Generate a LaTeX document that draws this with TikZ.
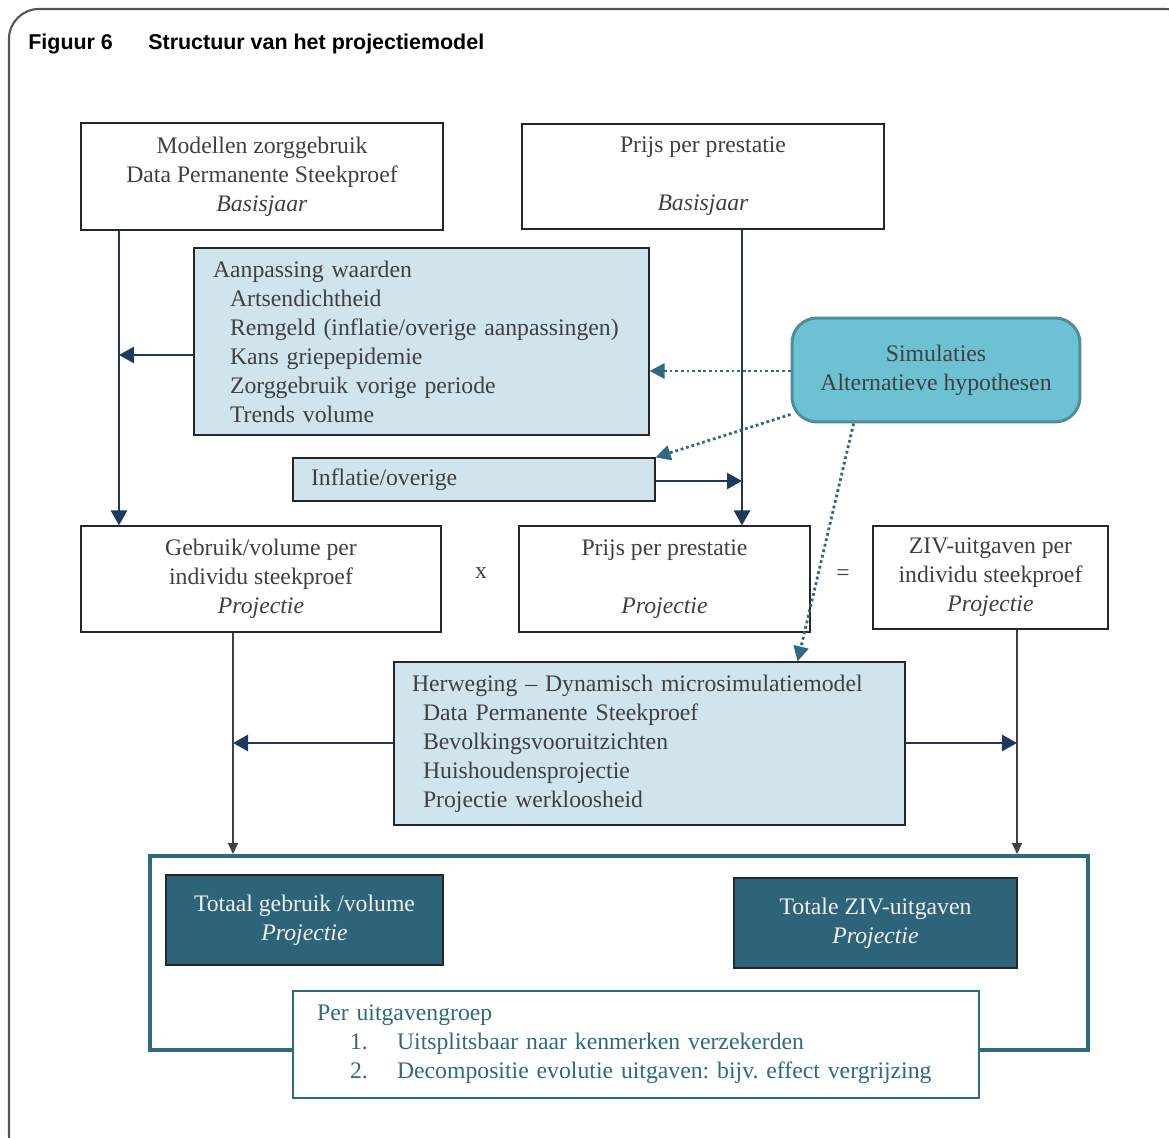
\documentclass[tikz,border=0pt]{standalone}
\usepackage{fontspec}
\setmainfont{Liberation Serif}
\newfontfamily\titlefont{Liberation Sans}
\usetikzlibrary{arrows.meta}
\frenchspacing
\definecolor{navyline}{HTML}{1D3A5C}
\definecolor{tealline}{HTML}{2E6A80}
\definecolor{lightbox}{HTML}{CFE4EC}
\definecolor{simfill}{HTML}{6CC2D3}
\definecolor{simdraw}{HTML}{4F8E9B}
\definecolor{darkbox}{HTML}{2E6479}
\definecolor{boxtext}{HTML}{404040}
\definecolor{framegray}{HTML}{555555}
\tikzset{
  titletext/.style={font=\titlefont\bfseries\fontsize{12.2}{14}\selectfont, inner sep=0pt},
  plainbox/.style={draw=black!85, line width=0.7pt, fill=white, text=boxtext,
    font=\fontsize{13.5}{16.5}\selectfont, align=center, inner sep=0pt},
  bluebox/.style={plainbox, fill=lightbox, align=left},
  simbox/.style={plainbox, draw=simdraw, line width=1.7pt, fill=simfill, rounded corners=0.5cm},
  darkteal/.style={plainbox, fill=darkbox, text=white!94!black},
  resultframe/.style={draw=tealline, line width=2.3pt, inner sep=0pt},
  sign/.style={text=boxtext, font=\fontsize{13.5}{16.5}\selectfont, inner sep=0pt},
  navyarrow/.style={navyline, line width=1.6pt, -{Triangle[length=0.3cm, width=0.32cm]}},
  grayarrow/.style={black!75, line width=1.1pt, -{Triangle[length=0.22cm, width=0.2cm]}},
  dotarrow/.style={tealline, line width=1.6pt, dash pattern=on 1.6pt off 1.6pt, -{Triangle[length=0.3cm, width=0.3cm]}}
}
\begin{document}
\begin{tikzpicture}[x=0.02cm, y=-0.02cm]
	\useasboundingbox (0,0) rectangle (1169,1138);
	\draw[framegray, line width=1.2pt, rounded corners=0.6cm] (9,9) rectangle (1195,1165);

	\node[titletext, anchor=base west] (fig) at (28,50) {Figuur 6};
	\node[titletext, anchor=base west] (titel) at (148,50) {Structuur van het projectiemodel};

	\node[plainbox, minimum width=7.24cm, minimum height=2.14cm] (modellen) at (262,176.5) {Modellen zorggebruik\\Data Permanente Steekproef\\\textit{Basisjaar}};
	\node[plainbox, minimum width=7.24cm, minimum height=2.1cm] (prijsbasis) at (703,176.5) {Prijs per prestatie\\[16.5pt]\textit{Basisjaar}};
	\node[bluebox, inner xsep=0.38cm, text width=8.34cm, minimum height=3.74cm] (aanpassing) at (421.5,341.5) {Aanpassing waarden\\
		\hspace*{0.34cm}Artsendichtheid\\
		\hspace*{0.34cm}Remgeld (inflatie/overige aanpassingen)\\
		\hspace*{0.34cm}Kans griepepidemie\\
		\hspace*{0.34cm}Zorggebruik vorige periode\\
		\hspace*{0.34cm}Trends volume};
	\node[bluebox, inner xsep=0.36cm, text width=6.52cm, minimum height=0.86cm] (inflatie) at (474,479.5) {Inflatie/overige};
	\node[simbox, minimum width=5.76cm, minimum height=2.08cm] (simulaties) at (936,370) {Simulaties\\Alternatieve hypothesen};

	\node[plainbox, minimum width=7.2cm, minimum height=2.12cm] (gebruik) at (261,579) {Gebruik/volume per\\individu steekproef\\\textit{Projectie}};
	\node[sign] (maal) at (481,573) {x};
	\node[plainbox, minimum width=5.82cm, minimum height=2.12cm] (prijsproj) at (664.5,579) {Prijs per prestatie\\[16.5pt]\textit{Projectie}};
	\node[sign] (is) at (843,575) {=};
	\node[plainbox, minimum width=4.7cm, minimum height=2.06cm] (zivper) at (990.5,577.5) {ZIV-uitgaven per\\individu steekproef\\\textit{Projectie}};

	\node[bluebox, inner xsep=0.36cm, text width=9.5cm, minimum height=3.26cm] (herweging) at (649.5,743.5) {Herweging -- Dynamisch microsimulatiemodel\\
		\hspace*{0.22cm}Data Permanente Steekproef\\
		\hspace*{0.22cm}Bevolkingsvooruitzichten\\
		\hspace*{0.22cm}Huishoudensprojectie\\
		\hspace*{0.22cm}Projectie werkloosheid};

	\node[resultframe, minimum width=18.76cm, minimum height=3.88cm] (kader) at (619,953) {};
	\node[darkteal, minimum width=5.54cm, minimum height=1.8cm] (totaalgebruik) at (304.5,920) {Totaal gebruik /volume\\\textit{Projectie}};
	\node[darkteal, minimum width=5.66cm, minimum height=1.8cm] (totaalziv) at (875.5,923) {Totale ZIV-uitgaven\\\textit{Projectie}};
	\node[plainbox, draw=tealline, text=tealline, align=left, inner xsep=0.48cm, text width=12.76cm, minimum height=2.14cm] (uitgavengroep) at (636,1044.5) {Per uitgavengroep\\
		\hspace*{0.66cm}\makebox[0.94cm][l]{1.}Uitsplitsbaar naar kenmerken verzekerden\\
		\hspace*{0.66cm}\makebox[0.94cm][l]{2.}Decompositie evolutie uitgaven: bijv. effect vergrijzing};

	\coordinate (lijnA) at (119,355);
	\coordinate (lijnB) at (742,481);
	\coordinate (lijnF) at (233,743);
	\coordinate (lijnH) at (1017,743);
	\coordinate (stip) at (0,371);

	\draw[navyarrow] (modellen.south -| lijnA) -- (gebruik.north -| lijnA);
	\draw[navyarrow] (aanpassing.west |- lijnA) -- (lijnA);
	\draw[navyarrow] (prijsbasis.south -| lijnB) -- (prijsproj.north -| lijnB);
	\draw[navyarrow] (inflatie.east |- lijnB) -- (lijnB);

	\draw[dotarrow] (simulaties.west |- stip) -- (aanpassing.east |- stip);
	\draw[dotarrow] (simulaties.197) -- (inflatie.north east);
	\draw[dotarrow] (simulaties.213) -- (herweging.29);

	\draw[grayarrow] (gebruik.south -| lijnF) -- (kader.north -| lijnF);
	\draw[navyarrow] (herweging.west |- lijnF) -- (lijnF);
	\draw[grayarrow] (zivper.south -| lijnH) -- (kader.north -| lijnH);
	\draw[navyarrow] (herweging.east |- lijnH) -- (lijnH);
\end{tikzpicture}
\end{document}
